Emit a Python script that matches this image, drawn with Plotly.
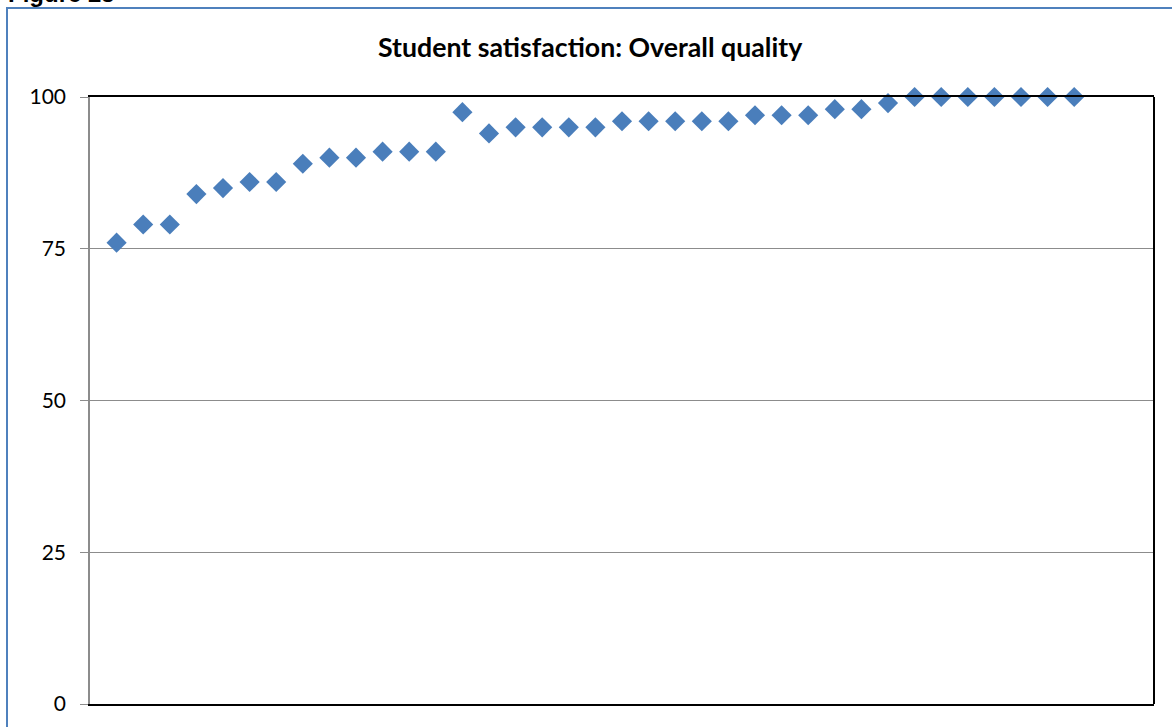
import plotly.graph_objects as go

# Data
institution_index = list(range(1, 38))
satisfaction = [76, 79, 79, 84, 85, 86, 86, 89, 90, 90, 91, 91, 91, 97.5,
                94, 95, 95, 95, 95, 96, 96, 96, 96, 96, 97, 97, 97, 98, 98,
                99, 100, 100, 100, 100, 100, 100, 100]
y_ticks = [0, 25, 50, 75, 100]
title_text = "Student satisfaction: Overall quality"
figure_label = "Figure 25"

W, H = 1172, 727
L, R, T, B = 90, 18, 97, 23
pw, ph = W - L - R, H - T - B

def px_x(p):
    return (p - L) / pw

def px_y(p):
    return (H - B - p) / ph

fig = go.Figure()
fig.add_trace(go.Scatter(
    x=institution_index, y=satisfaction, mode="markers",
    marker=dict(symbol="diamond", size=15.5, color="#4A7EBB",
                line=dict(width=0)),
    hoverinfo="x+y", showlegend=False, cliponaxis=False,
))

fig.update_layout(
    width=W, height=H,
    margin=dict(l=L, r=R, t=T, b=B),
    paper_bgcolor="white", plot_bgcolor="white",
    font=dict(family="Lato, 'Open Sans', sans-serif", color="black"),
    xaxis=dict(range=[0, 40], showgrid=False, zeroline=False,
               showticklabels=False, ticks="", showline=True,
               linecolor="black", linewidth=2, mirror=True),
    yaxis=dict(range=[0, 100], tickvals=y_ticks, showgrid=True,
               gridcolor="#8C8C8C", gridwidth=1, zeroline=False,
               ticks="outside", ticklen=8, tickcolor="#8C8C8C",
               showline=True, linecolor="#8C8C8C", linewidth=1.5,
               tickfont=dict(size=21, family="Lato, sans-serif"),
               ticklabelstandoff=10),
    annotations=[
        dict(text="<b>" + title_text + "</b>", xref="paper", yref="paper",
             x=px_x(590.5), y=px_y(47), xanchor="center", yanchor="middle",
             showarrow=False, font=dict(size=26.7, family="Lato, sans-serif")),
        dict(text="<b>" + figure_label + "</b>", xref="paper", yref="paper",
             x=px_x(6), y=px_y(-7), xanchor="left", yanchor="middle",
             showarrow=False,
             font=dict(size=24, family="'Liberation Sans', Arial, sans-serif")),
    ],
    shapes=[
        dict(type="rect", xref="paper", yref="paper",
             x0=px_x(7), x1=px_x(1200), y0=px_y(8), y1=px_y(760),
             line=dict(color="#4F81BD", width=2), fillcolor="rgba(0,0,0,0)",
             layer="below"),
        dict(type="line", xref="paper", yref="paper",
             x0=1, x1=1, y0=0, y1=1,
             line=dict(color="black", width=2)),
    ],
)

fig.write_html("out.html",
               config={"displayModeBar": False},
               post_script="document.body.style.margin='0px';"
                           "document.body.style.overflow='hidden';")
